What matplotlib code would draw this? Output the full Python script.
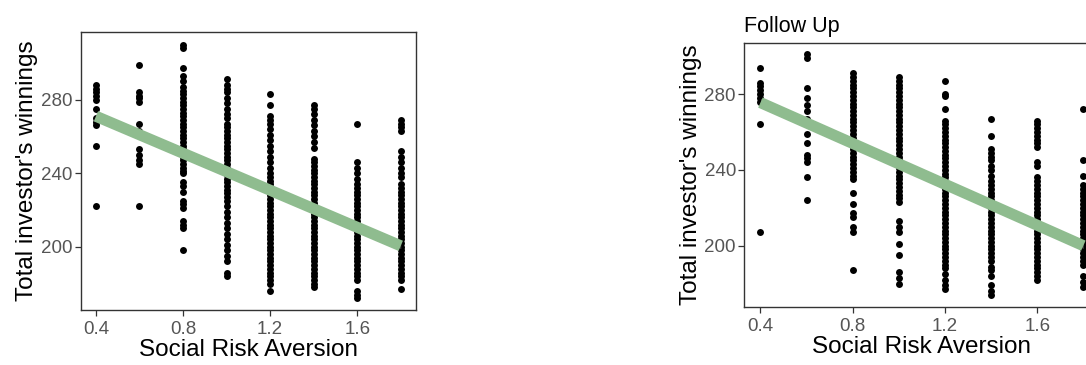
import matplotlib
matplotlib.use("Agg")
import matplotlib.pyplot as plt

plt.rcParams['font.family'] = ['Liberation Sans', 'DejaVu Sans']

# Social risk aversion levels
sra_levels = [0.4, 0.6, 0.8, 1.0, 1.2, 1.4, 1.6, 1.8]

# Baseline: total investor's winnings per SRA level
base_04 = [288, 286, 284, 282, 280, 275, 270, 268, 266, 255, 222]
base_06 = [299, 284, 282, 281, 279, 267, 263, 253, 250, 247, 245, 222]
base_08 = [310, 308, 297, 293, 290, 287, 285, 283, 281, 279, 277, 275, 273, 271,
           269, 267, 265, 263, 261, 259, 257, 255, 253, 251, 249, 247, 245, 243,
           241, 240, 235, 233, 230, 225, 223, 221, 214, 212, 210, 198]
base_10 = [291, 288, 286, 284, 281, 278, 275, 272, 270, 267, 265, 263, 261, 259,
           257, 255, 253, 251, 249, 247, 245, 243, 241, 239, 237, 235, 233, 231,
           229, 227, 225, 222, 219, 216, 213, 210, 207, 204, 201, 198, 195, 192,
           186, 184]
base_12 = [283, 277, 271, 269, 267, 264, 261, 258, 255, 252, 249, 246, 243, 240,
           238, 236, 234, 232, 230, 228, 226, 224, 222, 220, 218, 216, 214, 212,
           210, 208, 206, 204, 202, 200, 198, 196, 194, 192, 190, 188, 186, 184,
           182, 180, 176]
base_14 = [277, 275, 272, 269, 266, 263, 260, 257, 254, 248, 246, 244, 242, 240,
           238, 236, 234, 232, 230, 228, 226, 224, 222, 220, 218, 216, 214, 212,
           210, 208, 206, 204, 202, 200, 198, 196, 194, 192, 190, 188, 186, 184,
           182, 180, 178]
base_16 = [267, 246, 243, 240, 237, 234, 232, 230, 228, 226, 224, 222, 220, 218,
           216, 214, 212, 210, 208, 206, 204, 202, 200, 198, 196, 194, 192, 190,
           188, 186, 184, 182, 176, 174, 172]
base_18 = [269, 267, 265, 263, 252, 249, 246, 243, 240, 238, 234, 232, 230, 228,
           226, 224, 222, 220, 218, 216, 214, 212, 210, 208, 206, 204, 202, 200,
           198, 196, 194, 192, 190, 188, 186, 184, 182, 177]

# Follow up: total investor's winnings per SRA level
follow_04 = [294, 286, 284, 282, 280, 278, 276, 264, 207]
follow_06 = [301, 299, 283, 278, 274, 271, 267, 259, 254, 248, 246, 244, 236, 224]
follow_08 = [291, 289, 287, 285, 283, 281, 279, 277, 275, 273, 271, 269, 267, 265,
             263, 261, 259, 257, 255, 253, 251, 249, 247, 245, 243, 241, 239, 237,
             235, 228, 222, 217, 215, 210, 207, 187]
follow_10 = [289, 287, 285, 283, 281, 279, 277, 275, 273, 271, 269, 267, 265, 263,
             261, 259, 257, 255, 253, 251, 249, 247, 245, 243, 241, 239, 237, 235,
             233, 231, 229, 227, 225, 223, 213, 210, 207, 201, 195, 186, 183, 180]
follow_12 = [287, 280, 279, 272, 266, 264, 262, 260, 258, 256, 254, 252, 250, 248,
             246, 244, 242, 240, 238, 236, 234, 232, 230, 228, 226, 224, 222, 220,
             218, 216, 214, 212, 210, 208, 206, 204, 202, 200, 198, 196, 194, 192,
             190, 188, 185, 182, 179, 177]
follow_14 = [267, 258, 251, 249, 247, 245, 242, 240, 237, 234, 232, 230, 228, 226,
             224, 222, 220, 218, 216, 214, 212, 210, 208, 206, 204, 202, 200, 198,
             196, 194, 192, 189, 187, 184, 179, 176, 174]
follow_16 = [266, 264, 262, 260, 258, 256, 254, 252, 244, 242, 236, 234, 232, 230,
             228, 226, 224, 222, 220, 218, 216, 214, 212, 210, 208, 206, 204, 202,
             200, 198, 196, 194, 192, 190, 188, 186, 184, 182]
follow_18 = [272, 245, 237, 232, 230, 228, 226, 224, 222, 220, 218, 216, 214, 212,
             210, 208, 206, 204, 202, 200, 198, 196, 194, 192, 190, 184, 181, 178]

# Fitted regression line and its confidence band (at SRA 0.4, 1.1, 1.8)
fit_x = [0.4, 1.1, 1.8]
base_fit = [271.0, 235.8, 200.5]
base_lo = [268.8, 235.0, 199.0]
base_hi = [273.2, 236.6, 202.0]
follow_fit = [275.5, 237.8, 200.0]
follow_lo = [273.3, 237.0, 198.5]
follow_hi = [277.7, 238.6, 201.5]

x_ticks = [0.4, 0.8, 1.2, 1.6]
y_ticks = [200, 240, 280]

base_cols = [base_04, base_06, base_08, base_10, base_12, base_14, base_16, base_18]
follow_cols = [follow_04, follow_06, follow_08, follow_10, follow_12, follow_14,
               follow_16, follow_18]

W, H = 1086, 365
fig = plt.figure(figsize=(W / 100, H / 100), dpi=100)
fig.patch.set_facecolor('white')


def px_axes(left, top, right, bottom):
    return fig.add_axes([left / W, 1 - bottom / H, (right - left) / W, (bottom - top) / H])


ax1 = px_axes(80.7, 31.7, 416.0, 310.0)
ax2 = px_axes(744.3, 42.7, 1099.5, 306.7)


def draw_panel(ax, cols, fy, lo, hi, ylim):
    for lvl, vals in zip(sra_levels, cols):
        ax.scatter([lvl] * len(vals), vals, s=25, color='black', linewidths=0, zorder=2)
    ax.fill_between(fit_x, lo, hi, color='#999999', alpha=0.4, linewidth=0, zorder=3)
    ax.plot(fit_x, fy, color='#8FBC8F', linewidth=8, solid_capstyle='butt', zorder=4)
    ax.set_xlim(0.33, 1.87)
    ax.set_ylim(*ylim)
    ax.set_xticks(x_ticks)
    ax.set_xticklabels([f"{t:.1f}" for t in x_ticks])
    ax.set_yticks(y_ticks)
    for sp in ax.spines.values():
        sp.set_color('#333333')
        sp.set_linewidth(1.0)
    ax.tick_params(axis='both', direction='out', length=4, width=0.9,
                   color='#333333', labelcolor='#555555', labelsize=13.5)
    ax.tick_params(axis='x', pad=4)
    ax.tick_params(axis='y', pad=2)
    ax.set_xlabel('Social Risk Aversion', fontsize=17.5, color='black', labelpad=1)
    ax.set_ylabel("Total investor's winnings", fontsize=17.5, color='black', labelpad=2)


draw_panel(ax1, base_cols, base_fit, base_lo, base_hi, (165.6, 317.0))
draw_panel(ax2, follow_cols, follow_fit, follow_lo, follow_hi, (167.8, 307.1))
ax2.set_title('Follow Up', loc='left', fontsize=15.5, pad=8, color='black')

fig.savefig('out.png', dpi=100, facecolor='white')
